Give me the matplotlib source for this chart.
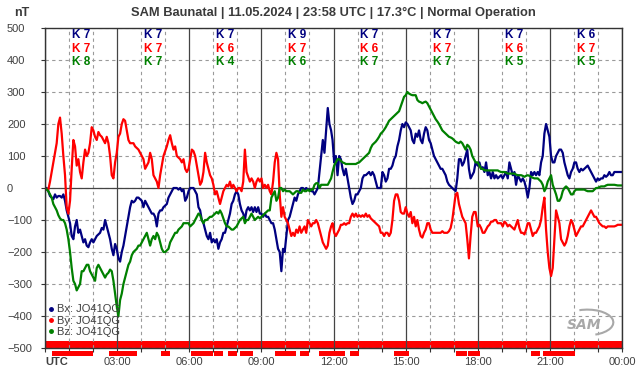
import numpy as np
import matplotlib
matplotlib.use("Agg")
import matplotlib.pyplot as plt
from matplotlib.lines import Line2D
from matplotlib.patches import Arc

plt.rcParams['font.family'] = ['Liberation Sans', 'DejaVu Sans']

TITLE = "SAM Baunatal | 11.05.2024 | 23:58 UTC | 17.3°C | Normal Operation"
STATION = "JO41QG"

# K index per 3 hour block
k_bx = [7, 7, 7, 9, 7, 7, 7, 6]
k_by = [7, 7, 6, 7, 6, 7, 6, 7]
k_bz = [8, 7, 4, 6, 7, 7, 5, 5]

# time span (hours UTC) of each block of readings, about 4 min apart
seg_hours = [(0.0, 5.90), (5.97, 11.90), (11.96, 17.91), (18.0, 23.96)]

# Bx (nT)
bx_seg = [
    [0, 0, -10, -25, -30, -35, -20, -30, -25, -25,
     -30, -20, -40, -70, -90, -110, -150, -160, -120, -100,
     -140, -130, -150, -170, -160, -180, -185, -170, -160, -170,
     -160, -150, -145, -140, -125, -130, -100, -120, -140, -160,
     -190, -210, -175, -190, -220, -230, -200, -180, -150, -120,
     -90, -60, -40, -45, -40, -30, -30, -35, -40, -60,
     -40, -50, -60, -70, -80, -80, -90, -120, -80, -70,
     -70, -60, -55, -50, -30, -20, -10, 0, 0, 0,
     -5, 0, -10, -5, -40, -30],
    [-10, 0, 0, 0, -10, -20, -60, -70, -100, -110,
     -130, -150, -160, -140, -170, -160, -170, -160, -190, -170,
     -160, -140, -140, -120, -100, -80, -50, -40, -20, -10,
     -20, -50, -70, -80, -100, -70, -60, -70, -60, -75,
     -60, -75, -60, -80, -80, -90, -80, -90, -90, -100,
     -110, -110, -130, -160, -190, -200, -260, -190, -200, -150,
     -100, -90, -70, -50, -30, -40, -20, -10, 0, 0,
     -5, 0, -5, -5, -10, -10, -20, -10, 0, 50,
     100, 150, 110, 180, 250, 200, 180],
    [150, 80, 100, 40, 100, 90, 60, 40, 60, 30,
     0, -30, -50, -40, -20, -20, -10, 0, 30, 40,
     40, 45, 50, 40, 50, 40, 20, 0, 0, 0,
     50, 40, 20, 30, 60, 60, 70, 90, 100, 130,
     150, 180, 200, 190, 205, 200, 190, 180, 150, 140,
     170, 160, 180, 150, 140, 170, 190, 180, 150, 140,
     120, 100, 90, 80, 70, 60, 60, 50, 40, 20,
     10, 5, 0, -5, -10, 30, 90, 90, 70, 80,
     100, 120, 60, 30, 40, 50, 80],
    [70, 80, 60, 65, 50, 80, 40, 50, 30, 50,
     30, 40, 30, 35, 40, 30, 40, 50, 30, 80,
     60, 40, 50, 10, 40, 30, 20, 30, 20, 0,
     -30, 0, 50, 40, 50, 40, 50, 40, 80, 100,
     170, 200, 180, 160, 100, 80, 80, 100, 110, 120,
     120, 110, 80, 60, 40, 30, 50, 60, 80, 80,
     60, 50, 60, 55, 60, 65, 70, 60, 50, 40,
     30, 20, 30, 25, 30, 30, 40, 35, 40, 50,
     40, 40, 50, 50, 50, 50, 50],
]

# By (nT)
by_seg = [
    [0, -5, -5, 20, 50, 80, 110, 140, 200, 220,
     170, 100, 40, -60, -80, -40, 60, 150, 130, 70,
     90, 50, 30, 80, 120, 100, 110, 140, 190, 180,
     160, 150, 175, 165, 160, 150, 140, 160, 140, 100,
     40, 30, 80, 110, 160, 170, 200, 215, 210, 180,
     150, 140, 140, 140, 130, 125, 120, 110, 100, 90,
     60, 70, 80, 110, 90, 40, 30, 20, 0, 40,
     70, 100, 115, 130, 150, 165, 140, 120, 130, 100,
     95, 90, 80, 90, 60, 50],
    [60, 90, 120, 115, 100, 70, 40, 10, 20, 50,
     110, 80, 60, 40, 30, 10, -20, -10, -30, -50,
     -30, -10, 0, 10, 5, 20, 0, 10, 0, -10,
     0, 0, -10, 20, 120, 50, 35, 20, 30, 20,
     0, 20, 30, 20, 30, 0, 10, 0, 10, -10,
     -20, 20, 80, 110, 90, -20, -90, -60, -90, -100,
     -110, -130, -150, -140, -150, -130, -140, -120, -140, -130,
     -120, -140, -100, -110, -120, -110, -110, -100, -110, -130,
     -150, -170, -180, -190, -180, -140, -120],
    [-110, -140, -150, -140, -130, -115, -115, -110, -115, -110,
     -110, -90, -80, -90, -80, -90, -85, -90, -85, -90,
     -80, -90, -85, -95, -100, -105, -110, -115, -120, -140,
     -140, -150, -140, -140, -150, -140, -100, -40, -20, -20,
     -40, -75, -80, -80, -60, -80, -90, -75, -110, -90,
     -120, -100, -130, -150, -155, -140, -130, -110, -110, -130,
     -140, -140, -140, -140, -140, -140, -135, -140, -140, -140,
     -135, -125, -100, -60, -20, -15, -50, -70, -90, -100,
     -110, -160, -220, -150, -90, -75, -75],
    [-120, -115, -125, -140, -140, -130, -120, -115, -105, -105,
     -100, -100, -110, -110, -110, -120, -105, -110, -120, -115,
     -120, -125, -130, -115, -100, -125, -140, -140, -145, -130,
     -110, -110, -130, -150, -140, -140, -130, -120, -100, -60,
     -30, -130, -200, -250, -275, -250, -160, -70, -90, -110,
     -160, -170, -180, -170, -150, -120, -100, -110, -130, -150,
     -140, -130, -120, -120, -110, -100, -90, -80, -70, -80,
     -90, -90, -100, -110, -115, -120, -120, -125, -120, -120,
     -120, -120, -120, -118, -115, -115, -115],
]

# Bz (nT)
bz_seg = [
    [0, -5, -10, -20, -30, -50, -60, -70, -85, -95,
     -100, -100, -110, -130, -160, -200, -250, -290, -300, -320,
     -310, -300, -260, -260, -250, -240, -240, -260, -270, -280,
     -290, -250, -240, -250, -260, -270, -280, -270, -265, -255,
     -260, -290, -330, -370, -400, -350, -330, -300, -280, -260,
     -240, -230, -210, -200, -195, -190, -180, -180, -170, -160,
     -150, -140, -160, -180, -160, -150, -160, -140, -150, -170,
     -190, -200, -200, -195, -190, -170, -160, -150, -140, -140,
     -130, -125, -120, -110, -110, -110],
    [-110, -120, -115, -110, -100, -90, -80, -85, -100, -110,
     -100, -100, -95, -90, -90, -85, -80, -75, -80, -70,
     -80, -95, -110, -120, -120, -125, -130, -130, -125, -120,
     -110, -100, -95, -90, -110, -100, -100, -90, -80, -90,
     -100, -95, -90, -95, -90, -85, -80, -75, -70, -70,
     -30, -20, -10, -40, -30, 0, 0, -10, -5, -10,
     -10, -10, -15, -20, -15, -10, -10, -15, -15, -5,
     -10, -10, -5, -10, -5, -5, 10, 15, 15, 0,
     10, 10, 10, 10, 10, 20, 30],
    [50, 70, 80, 90, 90, 85, 80, 78, 75, 75,
     75, 75, 75, 75, 75, 78, 80, 85, 90, 95,
     100, 105, 110, 125, 135, 140, 145, 152, 160, 170,
     175, 182, 190, 200, 210, 215, 220, 225, 230, 235,
     240, 255, 270, 285, 290, 300, 295, 292, 290, 290,
     290, 275, 270, 268, 265, 268, 270, 265, 255, 245,
     235, 225, 215, 208, 200, 190, 180, 175, 170, 165,
     160, 158, 155, 150, 145, 142, 140, 145, 140, 130,
     120, 135, 130, 120, 100, 90, 80],
    [80, 70, 60, 60, 55, 55, 55, 55, 55, 55,
     55, 55, 55, 52, 50, 50, 50, 48, 45, 45,
     45, 45, 45, 42, 40, 40, 40, 38, 35, 38,
     40, 38, 35, 32, 30, 30, 30, 25, 20, 10,
     -10, 0, 20, 30, 40, 10, -5, -20, -40, -40,
     -30, -10, 0, 5, 0, -10, -20, -20, -10, -5,
     -5, -5, -5, -5, -5, -8, -10, -10, -10, -10,
     -5, 0, 0, 3, 5, 5, 5, 8, 10, 10,
     10, 10, 10, 9, 8, 8, 8],
]

# alert periods shown under the time axis (start, end hours)
alerts = [(0.28, 1.98), (2.66, 3.83), (4.83, 5.20), (6.07, 6.99), (7.03, 7.40),
          (7.61, 7.99), (8.11, 8.65), (9.57, 10.44), (10.61, 10.98), (11.40, 12.48),
          (12.69, 13.06), (14.52, 15.14), (17.10, 17.55), (17.60, 18.09),
          (20.22, 20.59), (20.72, 22.05)]

x_labels = ['UTC', '03:00', '06:00', '09:00', '12:00', '15:00', '18:00', '21:00', '00:00']

C_BX = '#000080'
C_BY = '#ff0000'
C_BZ = '#008000'
TXT = '#404040'


def join(segs):
    t = np.concatenate([np.linspace(a, b, len(s)) for (a, b), s in zip(seg_hours, segs)])
    v = np.concatenate([np.asarray(s, float) for s in segs])
    return t, v


fig = plt.figure(figsize=(6.42, 3.76), dpi=100)
ax = fig.add_axes([45 / 642, 1 - 348 / 376, 577 / 642, 320 / 376])
ax.set_xlim(0, 24)
ax.set_ylim(-500, 500)

# grid
ax.set_axisbelow(True)
ax.set_xticks(np.arange(0, 25, 3))
ax.set_xticks(np.arange(0, 25, 1), minor=True)
ax.set_yticks(np.arange(-500, 501, 100))
ax.grid(which='minor', axis='x', color='#9a9a9a', lw=0.8, ls=(0, (3, 3)))
ax.grid(which='major', axis='x', color='#444444', lw=0.9, ls='-')
ax.grid(which='major', axis='y', color='#9a9a9a', lw=0.8, ls=(0, (3, 3)))
ax.axhline(0, color='#444444', lw=0.9, zorder=1)

# red status band at the bottom
ax.axhspan(-500, -478, color='#ff0000', lw=0, zorder=0.4)
ax.broken_barh([(a, b - a) for a, b in alerts], (-525, 16),
               facecolors='#ff0000', clip_on=False, zorder=3)

t, bx = join(bx_seg)
ax.plot(t, bx, color=C_BX, lw=1.6, zorder=2)
t, by = join(by_seg)
ax.plot(t, by, color=C_BY, lw=1.6, zorder=2)
t, bz = join(bz_seg)
ax.plot(t, bz, color=C_BZ, lw=1.6, zorder=2)

for spine in ax.spines.values():
    spine.set_color('#333333')
    spine.set_linewidth(1)

# ticks
ax.tick_params(axis='y', which='major', length=3, width=0.8, color='#333333',
               labelsize=8, labelcolor=TXT, pad=24.4)
for lbl in ax.get_yticklabels():
    lbl.set_horizontalalignment('left')
ax.tick_params(axis='x', which='both', length=3, width=0.8, color='#333333',
               labelsize=8, labelcolor=TXT, pad=3.5)
ax.set_xticklabels(x_labels)
first = ax.get_xticklabels()[0]
first.set_horizontalalignment('left')
first.set_fontweight('bold')

# K indices
for i in range(8):
    xc = 3 * i + 1.5
    ax.text(xc, 478, f'K {k_bx[i]}', color=C_BX, ha='center', va='center',
            fontsize=8.5, fontweight='bold')
    ax.text(xc, 434, f'K {k_by[i]}', color=C_BY, ha='center', va='center',
            fontsize=8.5, fontweight='bold')
    ax.text(xc, 393, f'K {k_bz[i]}', color=C_BZ, ha='center', va='center',
            fontsize=8.5, fontweight='bold')

# legend
handles = [Line2D([], [], ls='none', marker='o', ms=2.5, color=c) for c in (C_BX, C_BY, C_BZ)]
leg = ax.legend(handles, [f'Bx: {STATION}', f'By: {STATION}', f'Bz: {STATION}'],
                loc='lower left', bbox_to_anchor=(0.0, 0.027), frameon=False,
                fontsize=8, labelspacing=0.12, handlelength=0.6, handletextpad=0.3,
                borderpad=0, borderaxespad=0.2)
for txt in leg.get_texts():
    txt.set_color(TXT)

# SAM logo
ax.text(0.935, 0.072, 'SAM', transform=ax.transAxes, ha='center', va='center',
        fontsize=10, fontstyle='italic', fontweight='bold', color='#a8a8a8',
        family='DejaVu Sans')
ax.add_patch(Arc((0.94, 0.08), 0.09, 0.08, theta1=-70, theta2=110,
                 transform=ax.transAxes, color='#a8a8a8', lw=1.5))

fig.text(333 / 642, 1 - 13 / 376, TITLE, ha='center', va='center',
         fontsize=9.3, fontweight='bold', color='#3a3a3a')
fig.text(22 / 642, 1 - 13 / 376, 'nT', ha='center', va='center',
         fontsize=9, fontweight='bold', color='#3a3a3a')

fig.savefig('out.png', dpi=100)
